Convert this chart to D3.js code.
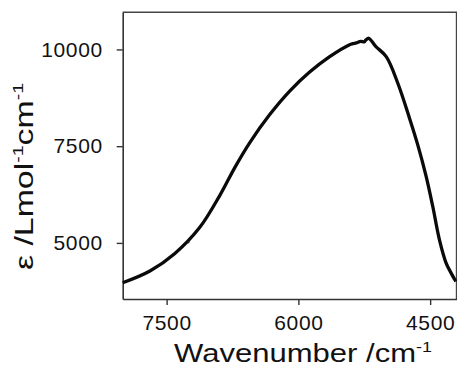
<!DOCTYPE html>
<html>
<head>
<meta charset="utf-8">
<script src="https://cdn.jsdelivr.net/npm/d3@7"></script>
<style>
  body { margin: 0; background: #fff; }
  svg { display: block; }
</style>
</head>
<body>
<div id="chart"></div>
<script>
let width = 457, height = 375;
let margin = { left: 122.7, top: 12.3, right: 0.5, bottom: 76 };

// spectrum (wavenumber in cm-1, epsilon in L mol-1 cm-1)
let wavenumber = [8000, 7690, 7406, 7122, 6894, 6724, 6553, 6326, 6099, 5872, 5644,
                  5417, 5380, 5341, 5290, 5250, 5230, 5198,
                  5120, 5000, 4868, 4735, 4641, 4545, 4470, 4394, 4318, 4261, 4207];
let epsilon = [3969, 4273, 4726, 5402, 6229, 6947, 7593, 8316, 8923, 9414, 9814,
               10124, 10150, 10170, 10210, 10195, 10250, 10289,
               10080, 9814, 9127, 8223, 7533, 6714, 5940, 5079, 4478, 4219, 4002];
// small stray dot next to the curve
let strayW = [7252], strayE = [5015];

let xTicks = [7500, 6000, 4500];
let yTicks = [5000, 7500, 10000];

let xScale = d3.scaleLinear()
    .domain([8000, 4200])
    .range([margin.left, width - margin.right]);

let yScale = d3.scaleLinear()
    .domain([3550, 10960])
    .range([height - margin.bottom, margin.top]);

let svg = d3.select("#chart")
    .append("svg")
    .attr("width", width)
    .attr("height", height);

let font = "'Liberation Sans', Arial, sans-serif";

// frame (top and right edges)
svg.append("path")
    .attr("d", `M${margin.left},${margin.top}H${width - margin.right}V${height - margin.bottom}`)
    .attr("fill", "none")
    .attr("stroke", "#444")
    .attr("stroke-width", 1.4);

let xAxis = d3.axisBottom(xScale)
    .tickValues(xTicks)
    .tickSize(6)
    .tickSizeOuter(0)
    .tickPadding(10)
    .tickFormat(d3.format("d"));

let yAxis = d3.axisLeft(yScale)
    .tickValues(yTicks)
    .tickSize(6)
    .tickSizeOuter(0)
    .tickPadding(14)
    .tickFormat(d3.format("d"));

let gx = svg.append("g")
    .attr("transform", "translate(0," + (height - margin.bottom) + ")")
    .call(xAxis);

let gy = svg.append("g")
    .attr("transform", "translate(" + margin.left + ",0)")
    .call(yAxis);

[gx, gy].forEach(g => {
    g.select(".domain").attr("stroke", "#333").attr("stroke-width", 1.6);
    g.selectAll(".tick line").attr("stroke", "#333").attr("stroke-width", 1.4);
    g.selectAll(".tick text")
        .attr("fill", "#111")
        .attr("font-family", font)
        .attr("font-size", "21px")
        .attr("letter-spacing", "0.6px");
});

// the spectrum
let line = d3.line()
    .x((d, i) => xScale(wavenumber[i]))
    .y((d, i) => yScale(epsilon[i]))
    .curve(d3.curveCatmullRom.alpha(0.5));

svg.append("path")
    .datum(epsilon)
    .attr("d", line)
    .attr("fill", "none")
    .attr("stroke", "#0a0a0a")
    .attr("stroke-width", 3.3)
    .attr("stroke-linejoin", "round");

svg.selectAll("circle.stray")
    .data(strayW)
    .enter()
    .append("circle")
    .attr("class", "stray")
    .attr("cx", (d, i) => xScale(d))
    .attr("cy", (d, i) => yScale(strayE[i]))
    .attr("r", 1.1)
    .attr("fill", "#222");

// x title
let xt = svg.append("text")
    .attr("x", 174)
    .attr("y", 362)
    .attr("textLength", 258)
    .attr("lengthAdjust", "spacingAndGlyphs")
    .attr("font-family", font)
    .attr("font-size", "26px")
    .attr("fill", "#111");
xt.append("tspan").text("Wavenumber /cm");
xt.append("tspan").attr("dy", -10).attr("font-size", "15px").text("-1");

// y title
let yt = svg.append("text")
    .attr("transform", "translate(33,270) rotate(-90)")
    .attr("textLength", 187)
    .attr("lengthAdjust", "spacingAndGlyphs")
    .attr("font-family", font)
    .attr("font-size", "26px")
    .attr("fill", "#111");
yt.append("tspan").text("ε /Lmol");
yt.append("tspan").attr("dy", -10).attr("font-size", "15px").text("-1");
yt.append("tspan").attr("dy", 10).text("cm");
yt.append("tspan").attr("dy", -10).attr("font-size", "15px").text("-1");
</script>
</body>
</html>
